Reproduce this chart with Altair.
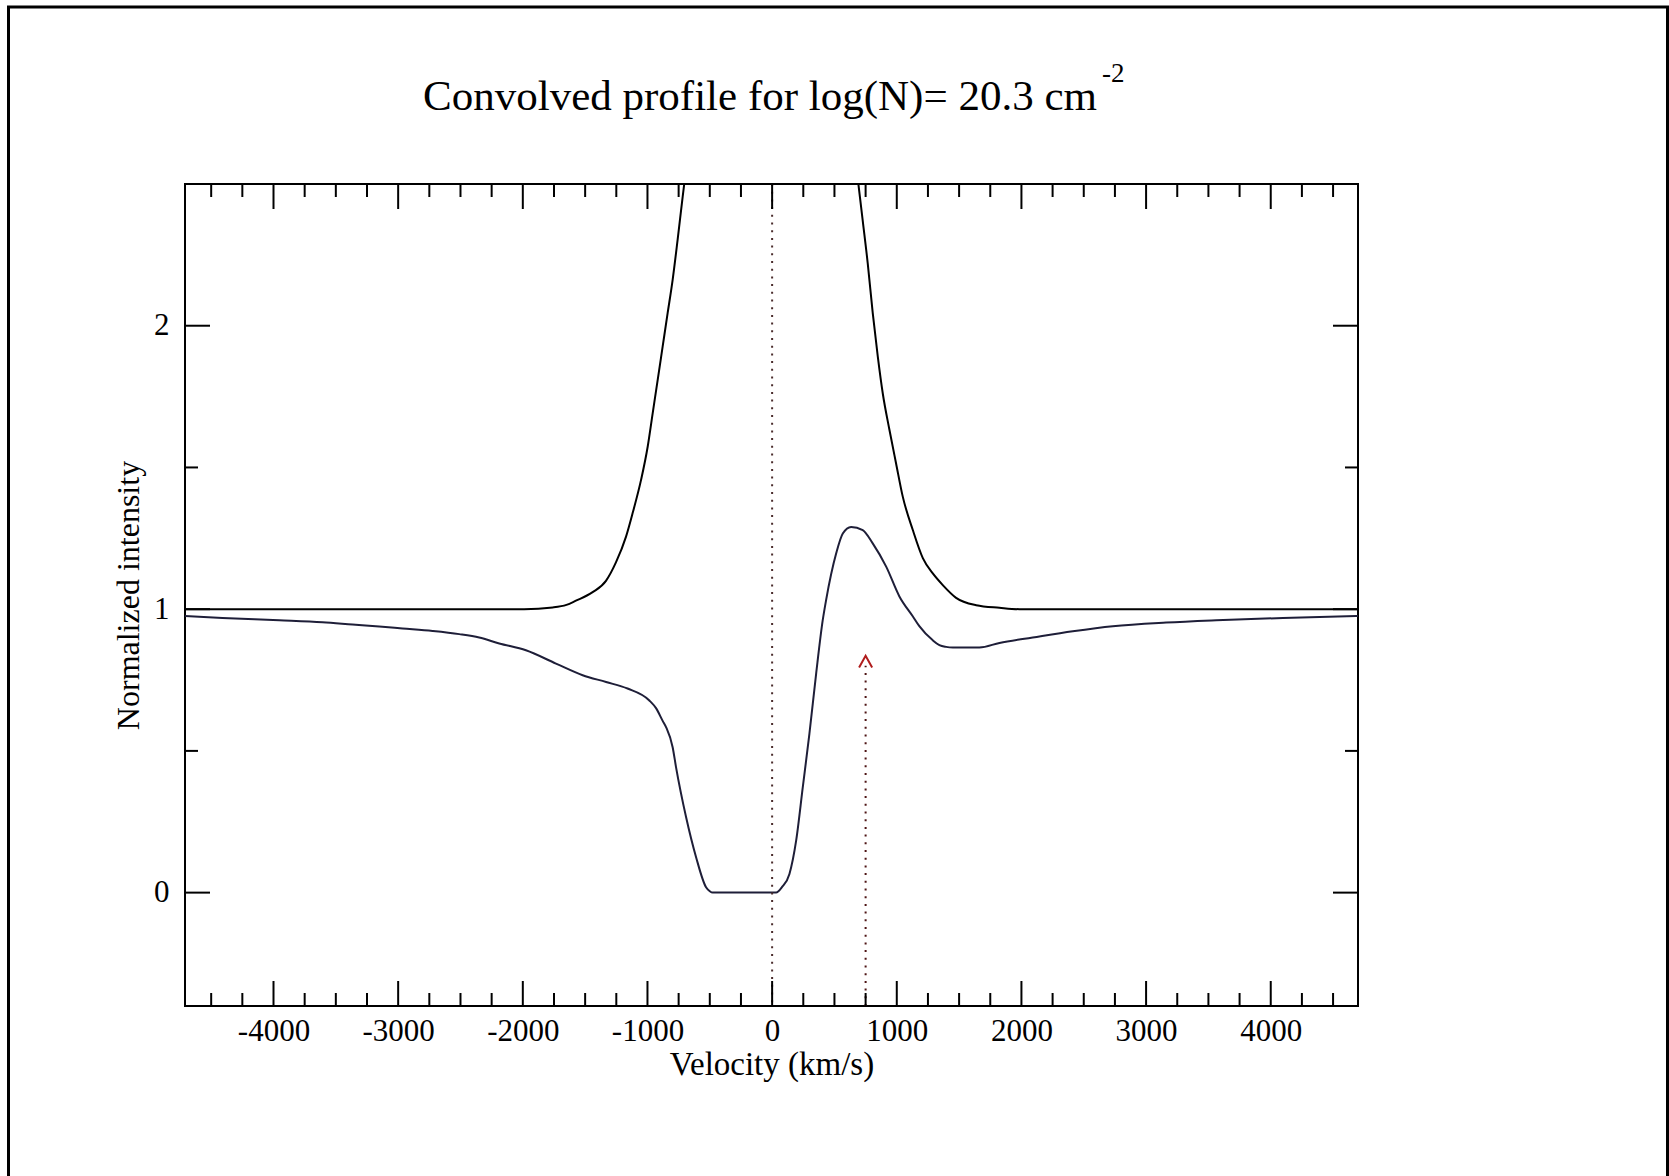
import altair as alt
import pandas as pd

# ---------------- data ----------------
# upper (emission-like) curve, left branch and right branch (leaves the top of the plot)
em_left_v = [-4710, -3000, -1990, -1760, -1650, -1574, -1440, -1333, -1253, -1172, -1119,
             -1051, -998, -958, -918, -878, -838, -798, -758, -717, -705]
em_left_f = [1.0, 1.0, 1.0, 1.006, 1.015, 1.03, 1.06, 1.10, 1.165, 1.256, 1.339,
             1.457, 1.574, 1.692, 1.809, 1.927, 2.045, 2.162, 2.304, 2.457, 2.50]
em_right_v = [692, 727, 767, 807, 848, 888, 941, 994, 1048, 1128, 1209, 1289, 1369,
              1476, 1637, 1824, 1985, 3000, 4700]
em_right_f = [2.50, 2.37, 2.22, 2.045, 1.89, 1.76, 1.633, 1.515, 1.397, 1.28, 1.18, 1.126,
              1.085, 1.04, 1.014, 1.005, 1.0, 1.0, 1.0]

# lower (convolved absorption) curve
abs_v = [-4710, -4409, -3954, -3607, -3366, -3152, -2965, -2724, -2510, -2350, -2189,
         -1975, -1734, -1520, -1332, -1160, -985, -930, -878, -851, -798, -771, -690,
         -610, -530, -500, -477, 32, 80, 139, 193, 246, 299, 353, 406, 433, 514, 567, 634,
         727, 807, 915, 1021, 1128, 1181, 1289, 1342, 1396, 1450, 1663, 1824, 2091, 2412,
         2733, 3161, 3563, 4098, 4700]
abs_f = [0.976, 0.969, 0.961, 0.954, 0.946, 0.939, 0.932, 0.923, 0.912, 0.900, 0.879,
         0.855, 0.808, 0.767, 0.743, 0.720, 0.678, 0.650, 0.606, 0.584, 0.513, 0.443, 0.266,
         0.125, 0.019, 0.005, 0.0, 0.0, 0.02, 0.066, 0.184, 0.372, 0.560, 0.772, 0.961, 1.032,
         1.197, 1.267, 1.290, 1.279, 1.232, 1.150, 1.045, 0.975, 0.940, 0.890, 0.873, 0.867,
         0.865, 0.865, 0.881, 0.900, 0.922, 0.940, 0.953, 0.961, 0.969, 0.976]

zero_v = [0]
marker_v = [750]
marker_top = [0.80]
marker_caret = [0.815]

x_major = [-4000, -3000, -2000, -1000, 0, 1000, 2000, 3000, 4000]
x_minor = [v for v in range(-4500, 4501, 250) if v % 1000 != 0]
y_major = [0, 1, 2]
y_minor = [0.5, 1.5]

x_domain = [-4710, 4700]
y_domain = [-0.4, 2.5]

title_main = "Convolved profile for log(N)= 20.3 cm"
title_sup = "-2"
x_title = "Velocity (km/s)"
y_title = "Normalized intensity"

# ---------------- chart ----------------
W, H = 1173, 822
FONT = "Liberation Serif"
MAJ, MIN = 25, 13

xs = alt.Scale(domain=x_domain, nice=False, zero=False)
ys = alt.Scale(domain=y_domain, nice=False, zero=False)

em_df = pd.DataFrame({
    "v": em_left_v + em_right_v,
    "f": em_left_f + em_right_f,
    "seg": ["L"] * len(em_left_v) + ["R"] * len(em_right_v),
})
abs_df = pd.DataFrame({"v": abs_v, "f": abs_f})

x_axis = alt.Axis(values=x_major, labelExpr="'' + datum.value", ticks=False, domain=False,
                  grid=False, labelFont=FONT, labelFontSize=31, labelColor="black",
                  labelPadding=10, title=x_title, titleFont=FONT, titleFontSize=33,
                  titleFontWeight="normal", titleColor="black", titleX=W / 2, titleY=68,
                  titleBaseline="alphabetic", titleAlign="center")
y_axis = alt.Axis(values=y_major, labelExpr="'' + datum.value", ticks=False, domain=False,
                  grid=False, labelFont=FONT, labelFontSize=31, labelColor="black",
                  labelPadding=16, title=y_title, titleFont=FONT, titleFontSize=32,
                  titleFontWeight="normal", titleColor="black", titleX=-57, titleY=H / 2,
                  titleAngle=270, titleBaseline="middle", titleAlign="center")

abs_line = alt.Chart(abs_df).mark_line(color="#1e1e38", strokeWidth=2, clip=True,
                                       interpolate="monotone").encode(
    x=alt.X("v:Q", scale=xs, axis=x_axis),
    y=alt.Y("f:Q", scale=ys, axis=y_axis),
)
em_line = alt.Chart(em_df).mark_line(color="#000000", strokeWidth=2, clip=True,
                                     interpolate="monotone").encode(
    x=alt.X("v:Q", scale=xs), y=alt.Y("f:Q", scale=ys), detail="seg:N"
)

zero_line = alt.Chart(pd.DataFrame({"v": zero_v})).mark_rule(
    color="#4a2c2c", strokeWidth=2, strokeDash=[2, 5.7]
).encode(x=alt.X("v:Q", scale=xs))

mk_df = pd.DataFrame({"v": marker_v, "lo": [y_domain[0]], "hi": marker_top, "c": marker_caret})
marker_line = alt.Chart(mk_df).mark_rule(
    color="#4d1414", strokeWidth=2, strokeDash=[2, 5.7]
).encode(x=alt.X("v:Q", scale=xs), y=alt.Y("lo:Q", scale=ys), y2="hi:Q")
caret = alt.Chart(mk_df).mark_point(
    shape="M-1,0.9L0,-0.9L1,0.9", filled=False, size=170, strokeWidth=2, color="#b01c1c", opacity=1
).encode(x=alt.X("v:Q", scale=xs), y=alt.Y("c:Q", scale=ys))

# inward ticks on all four sides
xmaj = pd.DataFrame({"v": x_major})
xmin = pd.DataFrame({"v": x_minor})
ymaj = pd.DataFrame({"f": y_major})
ymin = pd.DataFrame({"f": y_minor})

def xticks(df, length):
    b = alt.Chart(df).mark_rule(color="black", strokeWidth=2).encode(
        x=alt.X("v:Q", scale=xs), y=alt.value(H), y2=alt.value(H - length))
    t = alt.Chart(df).mark_rule(color="black", strokeWidth=2).encode(
        x=alt.X("v:Q", scale=xs), y=alt.value(0), y2=alt.value(length))
    return [b, t]

def yticks(df, length):
    l = alt.Chart(df).mark_rule(color="black", strokeWidth=2).encode(
        y=alt.Y("f:Q", scale=ys), x=alt.value(0), x2=alt.value(length))
    r = alt.Chart(df).mark_rule(color="black", strokeWidth=2).encode(
        y=alt.Y("f:Q", scale=ys), x=alt.value(W), x2=alt.value(W - length))
    return [l, r]

ticks = xticks(xmaj, MAJ) + xticks(xmin, MIN) + yticks(ymaj, MAJ) + yticks(ymin, MIN)

# title text
tdf = pd.DataFrame({"t": [title_main]})
title1 = alt.Chart(tdf).mark_text(font=FONT, fontSize=43, color="black", align="center",
                                  baseline="alphabetic").encode(
    text="t:N", x=alt.value(575), y=alt.value(-74))
sdf = pd.DataFrame({"t": [title_sup]})
title2 = alt.Chart(sdf).mark_text(font=FONT, fontSize=27, color="black", align="left",
                                  baseline="alphabetic").encode(
    text="t:N", x=alt.value(917), y=alt.value(-102))

# outer frame of the picture
fdf = pd.DataFrame({"k": [0]})
frame_left = alt.Chart(fdf).mark_rule(color="black", strokeWidth=3).encode(
    x=alt.value(-176.5), y=alt.value(-177), y2=alt.value(1000))
frame_right = alt.Chart(fdf).mark_rule(color="black", strokeWidth=3).encode(
    x=alt.value(1482.5), y=alt.value(-177), y2=alt.value(1000))
frame_top = alt.Chart(fdf).mark_rule(color="black", strokeWidth=3).encode(
    y=alt.value(-177), x=alt.value(-178), x2=alt.value(1484))

chart = alt.layer(
    abs_line, em_line, zero_line, marker_line, caret, *ticks, title1, title2,
    frame_left, frame_right, frame_top
).properties(
    width=W, height=H,
    autosize=alt.AutoSizeParams(type="none"),
    padding={"left": 185, "top": 184, "right": 311, "bottom": 170},
    background="white",
).configure_view(stroke="black", strokeWidth=2)

chart.save("out.html", embed_options={"renderer": "svg", "actions": False})
